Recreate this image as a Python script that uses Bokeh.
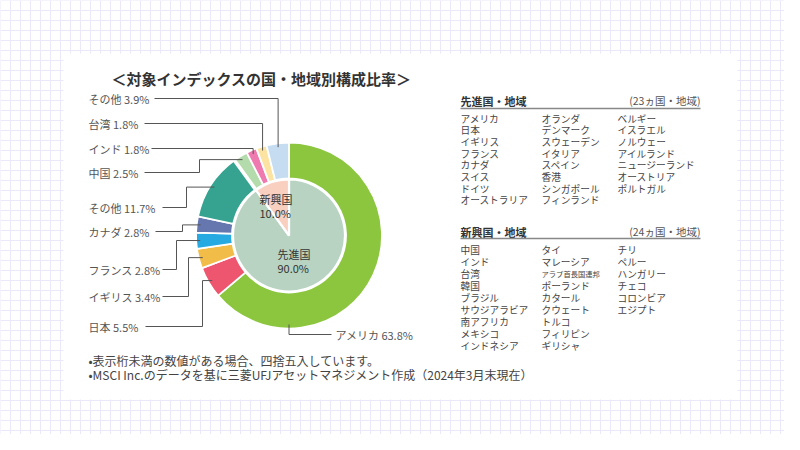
import numpy as np
from bokeh.plotting import figure
from bokeh.models import Range1d
from bokeh.core.properties import value
from bokeh.embed import file_html
from bokeh.resources import INLINE

# ---------------- data ----------------
title = "＜対象インデックスの国・地域別構成比率＞"
ring_names = ["アメリカ", "日本", "イギリス", "フランス", "カナダ", "その他",
              "中国", "インド", "台湾", "その他"]
ring_values = [63.8, 5.5, 3.4, 2.8, 2.8, 11.7, 2.5, 1.8, 1.8, 3.9]
ring_colors = ["#8cc63f", "#ee5670", "#f2bc48", "#27a9e1", "#6677b0", "#35a38f",
               "#b4dbac", "#ef7ab0", "#fde3a1", "#c6ddf1"]
pie_names = ["先進国", "新興国"]
pie_values = [90.0, 10.0]
pie_colors = ["#b8d3c2", "#f9cfc0"]

dev_header = "先進国・地域"
dev_count = "(23ヵ国・地域)"
dev_col1 = ["アメリカ", "日本", "イギリス", "フランス", "カナダ", "スイス", "ドイツ", "オーストラリア"]
dev_col2 = ["オランダ", "デンマーク", "スウェーデン", "イタリア", "スペイン", "香港", "シンガポール", "フィンランド"]
dev_col3 = ["ベルギー", "イスラエル", "ノルウェー", "アイルランド", "ニュージーランド", "オーストリア", "ポルトガル"]

emg_header = "新興国・地域"
emg_count = "(24ヵ国・地域)"
emg_col1 = ["中国", "インド", "台湾", "韓国", "ブラジル", "サウジアラビア", "南アフリカ", "メキシコ", "インドネシア"]
emg_col2 = ["タイ", "マレーシア", "アラブ首長国連邦", "ポーランド", "カタール", "クウェート", "トルコ", "フィリピン", "ギリシャ"]
emg_col3 = ["チリ", "ペルー", "ハンガリー", "チェコ", "コロンビア", "エジプト"]

notes = ["•表示桁未満の数値がある場合、四捨五入しています。",
         "•MSCI Inc.のデータを基に三菱UFJアセットマネジメント作成（2024年3月末現在）"]

# ---------------- layout (page pixel coordinates) ----------------
W, H = 784, 434
FONT = value("Noto Sans CJK JP")
OFF = 0
condensed = {"アラブ首長国連邦"}


def X(px):
    return np.asarray(px, dtype=float) - OFF


def Y(py):
    return H - (np.asarray(py, dtype=float) - OFF)


cx, cy = 288.5, 235.0
r_out, r_in, r_pie, r_anchor = 93, 57, 56, 89

# label layout for each ring slice (same order as data)
lab_x = [335, 88, 88, 88, 88, 88, 88, 88, 88, 88]
lab_y = [334, 326, 296, 269, 231, 207, 172, 148, 123, 98]
line_start = [331, 145, 162, 162, 155, 162, 144, 151, 144, 154]
elbow_x = [None, 202, 188, 176, 182, 186, 199, None, None, None]
anchor_frac = [0.5, None, None, None, None, None, None, None, None, None]

p = figure(width=W, height=H, x_range=Range1d(0, W), y_range=Range1d(0, H),
           output_backend="svg", toolbar_location=None, min_border=0,
           x_axis_location=None, y_axis_location=None)
p.grid.visible = False
p.outline_line_color = None
p.background_fill_color = "white"
p.border_fill_color = "white"

# graph-paper background
gx = np.arange(0, 801, 10)
gy = np.arange(0, 451, 10)
p.segment(x0=X(gx), y0=Y(0), x1=X(gx), y1=Y(450), line_color="#ebe8fa", line_width=1)
p.segment(x0=X(0), y0=Y(gy), x1=X(800), y1=Y(gy), line_color="#ebe8fa", line_width=1)

# white card
p.quad(left=X(63), right=X(737), top=Y(53), bottom=Y(399), fill_color="white", line_color=None)

# title
p.text(x=X(261), y=Y(78), text=[title], text_font=FONT, text_font_size="15px",
       text_font_style="bold", text_color="#333333", text_align="center", text_baseline="middle")

# outer ring
vals = np.array(ring_values)
f1 = np.cumsum(vals) / vals.sum()
f0 = f1 - vals / vals.sum()
p.annular_wedge(x=X(cx), y=Y(cy), inner_radius=r_in, outer_radius=r_out,
                start_angle=np.pi / 2 - 2 * np.pi * f1, end_angle=np.pi / 2 - 2 * np.pi * f0,
                fill_color=ring_colors, line_color="white", line_width=1.8)

# inner pie
pv = np.array(pie_values)
g1 = np.cumsum(pv) / pv.sum()
g0 = g1 - pv / pv.sum()
p.wedge(x=X(cx), y=Y(cy), radius=r_pie,
        start_angle=np.pi / 2 - 2 * np.pi * g1, end_angle=np.pi / 2 - 2 * np.pi * g0,
        fill_color=pie_colors, line_color="white", line_width=2.2)

# wider white gap in the ring where developed / emerging groups meet
bound = g1[0]
bt = 2 * np.pi * bound
p.segment(x0=X(cx + r_in * np.sin(bt)), y0=Y(cy - r_in * np.cos(bt)),
          x1=X(cx + (r_out + 2) * np.sin(bt)), y1=Y(cy - (r_out + 2) * np.cos(bt)),
          line_color="white", line_width=3.5)

pie_lab_x = [277, 259]
pie_lab_y = [253, 198]
p.text(x=X(pie_lab_x), y=Y(pie_lab_y), text=pie_names, text_font=FONT, text_font_size="11px",
       text_color="#333333", text_baseline="middle")
p.text(x=X(pie_lab_x), y=Y(np.array(pie_lab_y) + 14), text=[f"{v:.1f}%" for v in pie_values],
       text_font=FONT, text_font_size="11px", text_color="#333333", text_baseline="middle")

# leader lines + labels
xs, ys = [], []
for i in range(len(ring_values)):
    frac = anchor_frac[i] if anchor_frac[i] is not None else (f0[i] + f1[i]) / 2
    th = 2 * np.pi * frac
    ax = cx + r_anchor * np.sin(th)
    ay = cy - r_anchor * np.cos(th)
    if i == 0:
        px_ = [ax, ax, line_start[i]]
        py_ = [ay, lab_y[i], lab_y[i]]
    else:
        ex = elbow_x[i] if elbow_x[i] is not None else ax
        px_ = [line_start[i], ex, ex, ax]
        py_ = [lab_y[i], lab_y[i], ay, ay]
    xs.append(list(X(px_)))
    ys.append(list(Y(py_)))
p.multi_line(xs=xs, ys=ys, line_color="#555555", line_width=1)

ring_labels = [f"{n} {v:.1f}%" for n, v in zip(ring_names, ring_values)]
p.text(x=X(lab_x), y=Y(lab_y), text=ring_labels, text_font=FONT, text_font_size="11px",
       text_color="#555555", text_baseline="middle")

# right-hand country lists
cols_x = [460, 541, 617]


def block(header, count, cols, head_y, line_y, row0, step):
    p.text(x=X([460]), y=Y([head_y]), text=[header], text_font=FONT, text_font_size="11px",
           text_font_style="bold", text_color="#333333", text_baseline="middle")
    p.text(x=X([700]), y=Y([head_y]), text=[count], text_font=FONT, text_font_size="10.5px",
           text_color="#555555", text_align="right", text_baseline="middle")
    p.segment(x0=X([460]), y0=Y([line_y]), x1=X([700]), y1=Y([line_y]),
              line_color="#888888", line_width=1.5)
    for cxp, col in zip(cols_x, cols):
        yy = row0 + step * np.arange(len(col))
        sizes = ["7.3px" if t in condensed else "9.7px" for t in col]
        p.text(x=X([cxp] * len(col)), y=Y(yy), text=col, text_font=FONT,
               text_font_size=sizes, text_color="#444444", text_baseline="middle")


block(dev_header, dev_count, [dev_col1, dev_col2, dev_col3], 100, 108, 118, 11.7)
block(emg_header, emg_count, [emg_col1, emg_col2, emg_col3], 231, 238, 249, 12.0)

# footnotes
p.text(x=X([88, 88]), y=Y([360, 374]), text=notes, text_font=FONT, text_font_size="12px",
       text_color="#444444", text_baseline="middle")

open("out.html", "w").write(file_html(p, INLINE))
